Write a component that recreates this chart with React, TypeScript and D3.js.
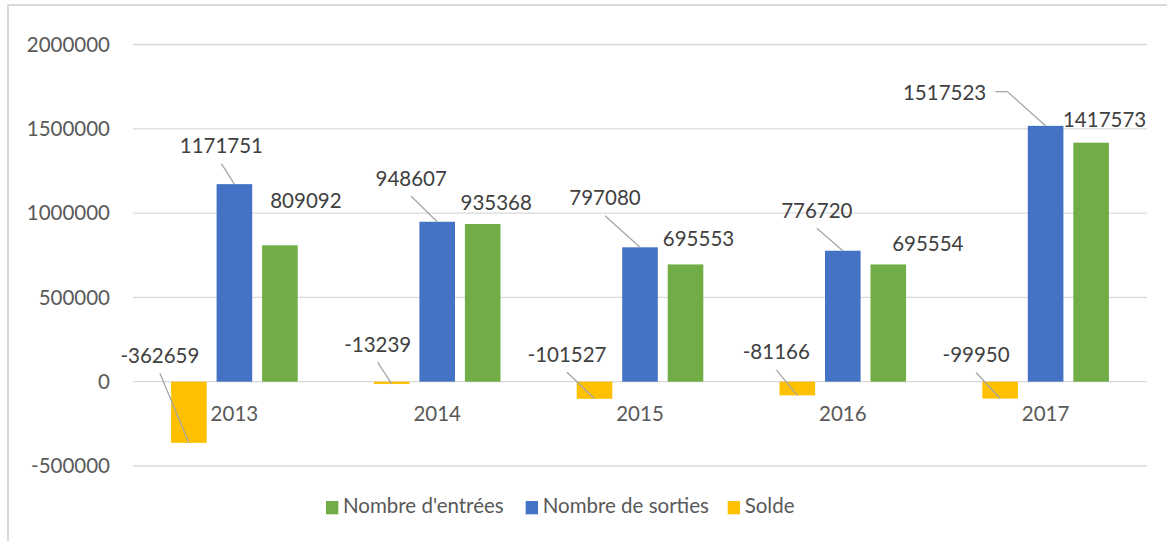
import React from "react";
import * as d3 from "d3";

const years = ["2013", "2014", "2015", "2016", "2017"];
const entrees = [809092, 935368, 695553, 695554, 1417573];
const sorties = [1171751, 948607, 797080, 776720, 1517523];
const solde = [-362659, -13239, -101527, -81166, -99950];
const yTicks = [-500000, 0, 500000, 1000000, 1500000, 2000000];
const legendLabels = ["Nombre d'entrées", "Nombre de sorties", "Solde"];

// label placement (offset of label centre / baseline from bar end), layout only
const soldeLabelOff = [[-29, -80], [-14, -32], [-27.5, -37], [-21, -36], [-24, -36.5]];
const sortiesLabelOff = [[-13, -31], [-26, -36], [-35, -42], [-26, -33], [-101, -26]];
const entreesLabelOff = [[26, -37], [13.5, -14], [13, -18], [39.5, -13], [13.5, -16]];

const W = 1167;
const H = 541;
const FONT = "Lato, 'Open Sans', sans-serif";
const FS = 20.5;

export default function App() {
  const x0 = d3.scaleBand<string>().domain(years).range([133, 1147]).paddingInner(0).paddingOuter(0);
  const y = d3.scaleLinear().domain([-500000, 2000000]).range([466, 44.5]);
  const barW = 35.6;
  const gap = 9.9;
  const groupW = 3 * barW + 2 * gap;
  const order = ["solde", "sorties", "entrees"];
  const x1 = d3
    .scaleBand<string>()
    .domain(order)
    .range([0, groupW])
    .paddingInner(gap / (barW + gap))
    .paddingOuter(0);
  const groupStart = (yr: string) => (x0(yr) as number) + (x0.bandwidth() - groupW) / 2;

  const series = [
    { key: "solde", values: solde, color: "#ffc000", off: soldeLabelOff, leader: [true, true, true, true, true] },
    { key: "sorties", values: sorties, color: "#4472c4", off: sortiesLabelOff, leader: [true, true, true, true, true] },
    { key: "entrees", values: entrees, color: "#70ad47", off: entreesLabelOff, leader: [false, false, false, false, false] },
  ];

  const legendColors = ["#70ad47", "#4472c4", "#ffc000"];
  const legendX = [326, 525.7, 727.7];

  return (
    <svg
      width={W}
      height={H}
      style={{ position: "absolute", left: 0, top: 0, background: "#fff" }}
      fontFamily={FONT}
    >
      <rect x={0} y={0} width={W} height={H} fill="#fff" />
      {/* frame */}
      <path d={`M8,${H + 5} L8,5 L${W + 5},5`} fill="none" stroke="#d9d9d9" strokeWidth={2} />
      {/* gridlines */}
      {yTicks.map((t) => (
        <line key={t} x1={133} x2={1147} y1={y(t)} y2={y(t)} stroke="#d9d9d9" strokeWidth={1.3} />
      ))}
      {/* y tick labels */}
      {yTicks.map((t) => (
        <text key={"l" + t} x={110} y={y(t) + 7.3} textAnchor="end" fontSize={FS} fill="#595959">
          {t}
        </text>
      ))}
      {/* bars */}
      {series.map((s) =>
        s.values.map((v, i) => {
          const bx = groupStart(years[i]) + (x1(s.key) as number);
          const y0 = y(0);
          const yv = y(v);
          return (
            <rect
              key={s.key + i}
              x={bx}
              y={Math.min(y0, yv)}
              width={x1.bandwidth()}
              height={Math.max(1, Math.abs(yv - y0))}
              fill={s.color}
            />
          );
        })
      )}
      {/* category labels */}
      {years.map((yr) => (
        <text
          key={yr}
          x={(x0(yr) as number) + x0.bandwidth() / 2}
          y={420.7}
          textAnchor="middle"
          fontSize={FS}
          fill="#595959"
        >
          {yr}
        </text>
      ))}
      {/* data labels and leader lines */}
      {series.map((s) =>
        s.values.map((v, i) => {
          const cx = groupStart(years[i]) + (x1(s.key) as number) + x1.bandwidth() / 2;
          const ey = y(v);
          const lx = cx + s.off[i][0];
          const ly = ey + s.off[i][1];
          const txt = String(v);
          const halfW = (txt.length * 11.9) / 2;
          let leader = null;
          if (s.leader[i]) {
            if (Math.abs(s.off[i][0]) > halfW + 5) {
              const sx = lx + halfW + 9;
              const sy = ly - 8.3;
              leader = (
                <polyline
                  points={`${sx},${sy} ${sx + 12},${sy} ${cx},${ey}`}
                  fill="none"
                  stroke="#a6a6a6"
                  strokeWidth={1.3}
                />
              );
            } else {
              leader = (
                <line x1={lx} y1={ly + 10.5} x2={cx} y2={ey} stroke="#a6a6a6" strokeWidth={1.3} />
              );
            }
          }
          return (
            <g key={"dl" + s.key + i}>
              {leader}
              <text x={lx} y={ly} textAnchor="middle" fontSize={FS} fill="#404040">
                {txt}
              </text>
            </g>
          );
        })
      )}
      {/* legend */}
      {legendLabels.map((l, i) => (
        <g key={l}>
          <rect x={legendX[i]} y={501} width={12.3} height={13.3} fill={legendColors[i]} />
          <text x={legendX[i] + 17} y={513.3} fontSize={FS} fill="#595959">
            {l}
          </text>
        </g>
      ))}
    </svg>
  );
}
